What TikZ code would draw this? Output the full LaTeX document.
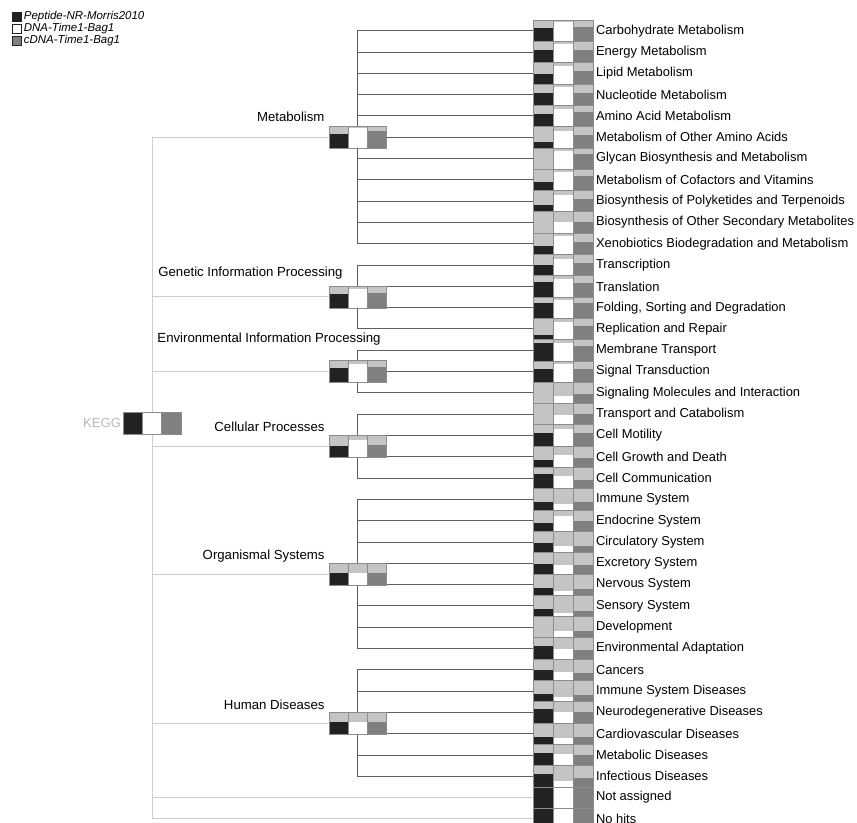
\documentclass[tikz,border=0pt]{standalone}
\usepackage{fontspec}
\setmainfont{Liberation Sans}
\usetikzlibrary{positioning}

\definecolor{kblack}{RGB}{34,34,34}
\definecolor{kwhite}{RGB}{255,255,255}
\definecolor{kgrey}{RGB}{128,128,128}
\definecolor{kbg}{RGB}{196,196,196}
\definecolor{kedge}{RGB}{140,140,140}
\definecolor{kline}{RGB}{95,95,95}
\definecolor{klight}{RGB}{205,205,205}
\definecolor{klab}{RGB}{185,185,185}

\tikzset{every picture/.style={line width=0.75pt}}
\tikzset{
  leaf/.style={inner sep=0pt, minimum width=45pt, minimum height=15.9pt},
  catbox/.style={inner sep=0pt, minimum width=42.75pt, minimum height=16.5pt},
  leaflab/.style={font=\fontsize{9.7}{11}\selectfont, inner sep=1.5pt},
  catlab/.style={font=\fontsize{9.9}{11}\selectfont, inner sep=0pt, anchor=east},
  legsq/.style={draw=kblack, line width=0.6pt, minimum size=6.8pt, inner sep=0pt},
  leglab/.style={font=\fontsize{8.6}{10}\selectfont\itshape, inner sep=0.5pt},
  subline/.style={draw=kline, line width=0.75pt},
  topline/.style={draw=klight, line width=0.75pt},
}

% three bar cells: left x, centre y, cell width, height, three fill fractions
\newcommand{\kcells}[7]{%
  \foreach \k/\f/\col in {0/#5/kblack,1/#6/kwhite,2/#7/kgrey}{
    \fill[kbg] ({#1+\k*#3},{#2-#4/2}) rectangle ++(#3,#4);
    \fill[\col] ({#1+\k*#3},{#2+#4/2}) rectangle ++(#3,{-\f*#4});
    \draw[kedge, line width=0.6pt] ({#1+\k*#3},{#2-#4/2}) rectangle ++(#3,#4);
  }}

\begin{document}
\begin{tikzpicture}[x=0.75pt,y=0.75pt,yscale=-1,xscale=1]
\useasboundingbox (0,0) rectangle (857,823);

% Legend
\node[legsq, fill=kblack] (lg1) at (16.5,17) {};
\node[leglab, right=1pt of lg1] {Peptide-NR-Morris2010};
\node[legsq, fill=kwhite] (lg2) at (16.5,29) {};
\node[leglab, right=1pt of lg2] {DNA-Time1-Bag1};
\node[legsq, fill=kgrey] (lg3) at (16.5,41) {};
\node[leglab, right=1pt of lg3] {cDNA-Time1-Bag1};

% Leaf rows
\foreach \i/\lab/\a/\b/\c in {
  0/Carbohydrate Metabolism/.65/.9/.7,
  1/Energy Metabolism/.6/.9/.6,
  2/Lipid Metabolism/.45/.85/.6,
  3/Nucleotide Metabolism/.6/.85/.6,
  4/Amino Acid Metabolism/.6/.85/.7,
  5/Metabolism of Other Amino Acids/.3/.8/.6,
  6/Glycan Biosynthesis and Metabolism/0/.85/.7,
  7/Metabolism of Cofactors and Vitamins/.4/.85/.7,
  8/Biosynthesis of Polyketides and Terpenoids/.3/.8/.6,
  9/Biosynthesis of Other Secondary Metabolites/0/.5/.5,
  10/Xenobiotics Biodegradation and Metabolism/.4/.85/.6,
  11/Transcription/.5/.8/.6,
  12/Translation/.7/.85/.65,
  13/{Folding, Sorting and Degradation}/.7/.85/.7,
  14/Replication and Repair/.2/.85/.65,
  15/Membrane Transport/.85/.85/.7,
  16/Signal Transduction/.6/.85/.6,
  17/Signaling Molecules and Interaction/0/.35/.45,
  18/Transport and Catabolism/0/.45/.5,
  19/Cell Motility/.6/.8/.6,
  20/Cell Growth and Death/.35/.6/.45,
  21/Cell Communication/.7/.6/.4,
  22/Immune System/.4/.3/.4,
  23/Endocrine System/.4/.7/.5,
  24/Circulatory System/.45/.3/.3,
  25/Excretory System/.45/.4/.4,
  26/Nervous System/.35/.2/.3,
  27/Sensory System/.35/.15/.25,
  28/Development/0/.3/.3,
  29/Environmental Adaptation/.6/.5/.45,
  30/Cancers/.5/.4/.35,
  31/Immune System Diseases/.35/.2/.3,
  32/Neurodegenerative Diseases/.65/.5/.5,
  33/Cardiovascular Diseases/.35/.3/.35,
  34/Metabolic Diseases/.6/.55/.5,
  35/Infectious Diseases/.6/.3/.4,
  36/Not assigned/.95/.95/.95,
  37/No hits/.95/.95/.95}{
  \pgfmathsetmacro\yy{30.8+21.3*\i}
  \node[leaf] (l\i) at (563,\yy) {};
  \kcells{533}{\yy}{20}{21.3}{\a}{\b}{\c}
  \node[leaflab, right=0pt of l\i] {\lab};
}

% Category boxes
\node[catbox] (kegg) at (152,423) {};
\node[catbox] (met) at (357.5,137.3) {};
\node[catbox] (gip) at (357.5,297) {};
\node[catbox] (eip) at (357.5,371.6) {};
\node[catbox] (cel) at (357.5,446.2) {};
\node[catbox] (org) at (357.5,574) {};
\node[catbox] (hum) at (357.5,723) {};

% Connectors from KEGG
\foreach \n in {met,gip,eip,cel,org,hum}
  \draw[topline] (kegg.center) |- (\n.west);
\draw[topline] (kegg.center) |- (l36.west);
\draw[topline] (kegg.center) |- (l37.west);

% Connectors inside the categories
\foreach \r in {0,...,10} \draw[subline] (met.center) |- (l\r.west);
\foreach \r in {11,...,14} \draw[subline] (gip.center) |- (l\r.west);
\foreach \r in {15,...,17} \draw[subline] (eip.center) |- (l\r.west);
\foreach \r in {18,...,21} \draw[subline] (cel.center) |- (l\r.west);
\foreach \r in {22,...,29} \draw[subline] (org.center) |- (l\r.west);
\foreach \r in {30,...,35} \draw[subline] (hum.center) |- (l\r.west);

% Bars of the inner boxes
\kcells{123}{423}{19.33}{22}{1}{1}{1}
\kcells{329}{137.3}{19}{22}{.65}{.9}{.8}
\kcells{329}{297}{19}{22}{.65}{.85}{.7}
\kcells{329}{371.6}{19}{22}{.65}{.85}{.7}
\kcells{329}{446.2}{19}{22}{.5}{.8}{.55}
\kcells{329}{574}{19}{22}{.55}{.55}{.55}
\kcells{329}{723}{19}{22}{.55}{.55}{.55}

% Text Node
\node[font=\fontsize{9.9}{11}\selectfont, text=klab, inner sep=1pt, left=0pt of kegg] {KEGG};
% Text Node
\node[catlab] at (325,117) {Metabolism};
\node[catlab] at (343,273) {Genetic Information Processing};
\node[catlab] at (381,339) {Environmental Information Processing};
\node[catlab] at (325,427) {Cellular Processes};
\node[catlab] at (325,556) {Organismal Systems};
\node[catlab] at (325,705) {Human Diseases};

\end{tikzpicture}
\end{document}
